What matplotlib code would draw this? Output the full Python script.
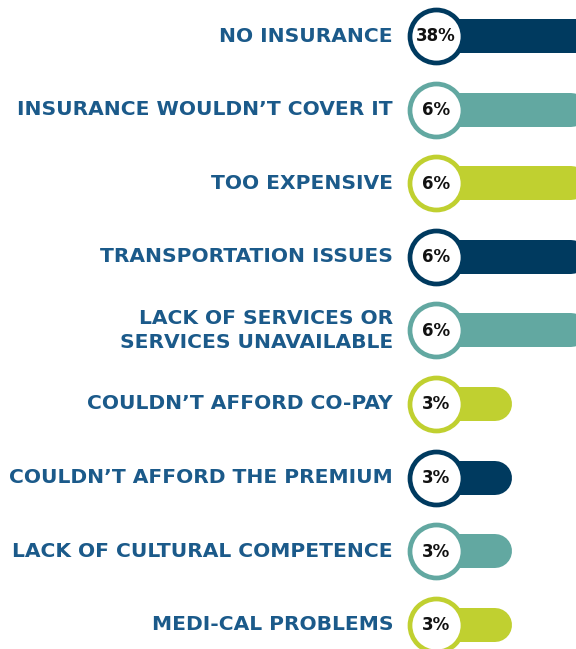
import matplotlib.pyplot as plt

labels = ['NO INSURANCE', 'INSURANCE WOULDN\u2019T COVER IT', 'TOO EXPENSIVE',
          'TRANSPORTATION ISSUES', 'LACK OF SERVICES OR\nSERVICES UNAVAILABLE',
          'COULDN\u2019T AFFORD CO-PAY', 'COULDN\u2019T AFFORD THE PREMIUM',
          'LACK OF CULTURAL COMPETENCE', 'MEDI-CAL PROBLEMS']
values = [38, 6, 6, 6, 6, 3, 3, 3, 3]
colors = ['#003a5f', '#62a8a1', '#c0d030'] * 3

W, H, DPI = 576, 649, 100
px_x = 25.3      # pixels per percent
px_y = 73.6      # pixels per row
x0 = 436         # circle centre in pixels
y0 = 36

fig = plt.figure(figsize=(W / DPI, H / DPI), dpi=DPI)
ax = fig.add_axes([0, 0, 1, 1])
ax.set_xlim(-x0 / px_x, (W - x0) / px_x)
ax.set_ylim((H - y0) / px_y, -y0 / px_y)
ax.axis('off')

bar_h = 34  # px
cap = bar_h / 2 / px_x
for i, (lab, v, c) in enumerate(zip(labels, values, colors)):
    ax.plot([0, v - cap], [i, i], color=c, lw=bar_h * 72 / DPI,
            solid_capstyle='round', zorder=1)
    ax.scatter([0], [i], s=(53 * 72 / DPI) ** 2, facecolor='white',
               edgecolor=c, linewidths=3.4, zorder=2)
    ax.text(0, i + 0.005, f'{v}%', ha='center', va='center', fontsize=12,
            fontweight='bold', color='#111111', zorder=3)
    ax.text(-43 / px_x, i, lab, ha='right', va='center', fontsize=14.6,
            fontweight='bold', color='#1b5a8a', linespacing=1.3)

fig.savefig('out.png', dpi=DPI)
